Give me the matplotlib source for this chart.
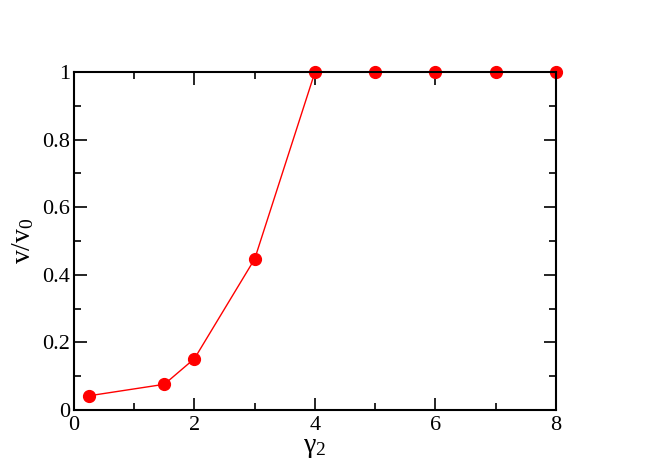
import matplotlib
matplotlib.use("Agg")
import matplotlib.pyplot as plt

gamma2 = [0.25, 1.5, 2, 3, 4, 5, 6, 7, 8]
v_ratio = [0.042, 0.076, 0.152, 0.447, 1.0, 1.0, 1.0, 1.0, 1.0]

x_major = [0, 2, 4, 6, 8]
x_minor = [1, 3, 5, 7]
y_major = [0, 0.2, 0.4, 0.6, 0.8, 1.0]
y_minor = [0.1, 0.3, 0.5, 0.7, 0.9]
y_labels = ['0', '0.2', '0.4', '0.6', '0.8', '1']

plt.rcParams['font.family'] = 'serif'
plt.rcParams['font.serif'] = ['Liberation Serif', 'DejaVu Serif']
plt.rcParams['mathtext.fontset'] = 'custom'
plt.rcParams['mathtext.rm'] = 'Liberation Serif'
plt.rcParams['mathtext.it'] = 'Liberation Serif:italic'

fig = plt.figure(figsize=(6.64, 4.70), dpi=100)
ax = fig.add_axes([0.1114, 0.1277, 0.7259, 0.7191])

ax.plot(gamma2, v_ratio, color='red', lw=1, marker='o', ms=8.5, zorder=2, clip_on=False)

ax.set_xlim(0, 8)
ax.set_ylim(0, 1)
ax.set_xticks(x_major)
ax.set_xticks(x_minor, minor=True)
ax.set_xticklabels([str(v) for v in x_major], family='Liberation Serif')
ax.set_yticks(y_major)
ax.set_yticks(y_minor, minor=True)
ax.set_yticklabels(y_labels, family='Liberation Serif')

ax.tick_params(which='both', direction='in', top=True, right=True, labelsize=16, width=1.2)
ax.tick_params(axis='x', pad=4)
ax.tick_params(axis='y', pad=3)
ax.tick_params(which='major', length=9)
ax.tick_params(which='minor', length=5)
for s in ax.spines.values():
    s.set_linewidth(1.5)
    s.set_zorder(3)

ax.set_xlabel(r'$\mathrm{\gamma_2}$', fontsize=20, labelpad=0)
ax.set_ylabel(r'$\mathrm{v/v_0}$', fontsize=20, labelpad=4)

fig.savefig('out.png', dpi=100)
